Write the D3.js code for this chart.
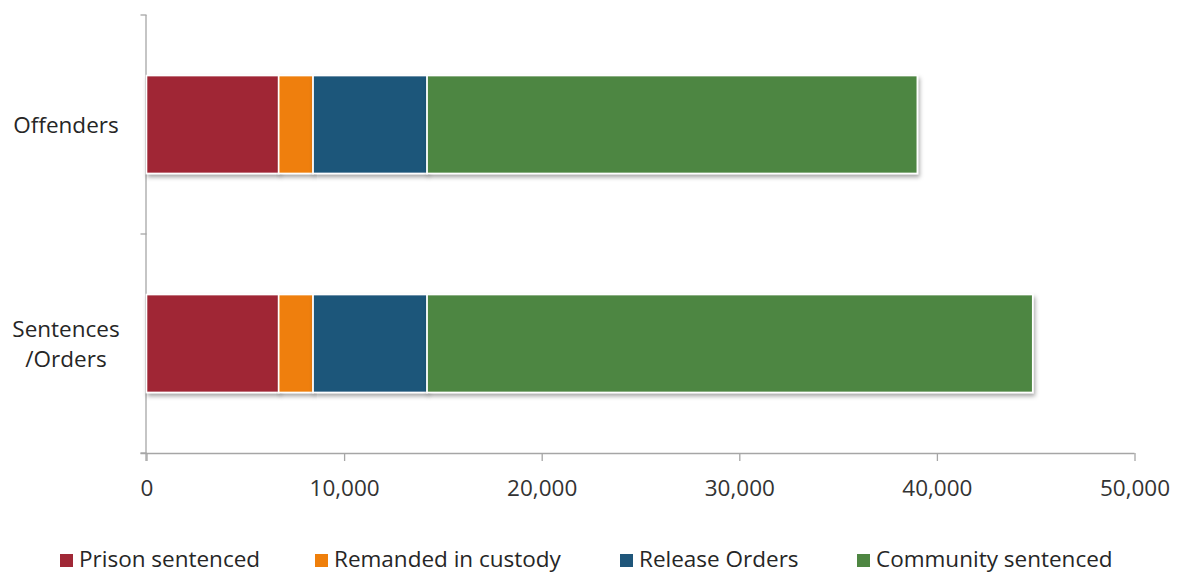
<!DOCTYPE html>
<html>
<head>
<meta charset="utf-8">
<script src="https://cdn.jsdelivr.net/npm/d3@7"></script>
<style>
  html, body { margin: 0; padding: 0; background: #fff; }
  svg { display: block; }
  text { font-family: "Open Sans", "Liberation Sans", sans-serif; }
</style>
</head>
<body>
<svg id="chart" width="1182" height="573"></svg>
<script>
// ---- data ----
const categories = ["Offenders", "Sentences /Orders"];
const seriesNames = ["Prison sentenced", "Remanded in custody", "Release Orders", "Community sentenced"];
const prisonSentenced   = [6690, 6690];
const remandedInCustody = [1740, 1740];
const releaseOrders     = [5770, 5770];
const communitySentenced = [24810, 30650];
const xTickValues = [0, 10000, 20000, 30000, 40000, 50000];
const seriesColors = ["#A02836", "#EF7F0B", "#1F567A", "#4E8642"];

// build table
const table = categories.map((c, i) => ({
  category: c,
  "Prison sentenced": prisonSentenced[i],
  "Remanded in custody": remandedInCustody[i],
  "Release Orders": releaseOrders[i],
  "Community sentenced": communitySentenced[i]
}));
const stacked = d3.stack().keys(seriesNames)(table);

const svg = d3.select("#chart");
const plot = { left: 146.5, right: 1134.5, top: 15, bottom: 453 };

const x = d3.scaleLinear().domain([0, 50000]).range([plot.left, plot.right]);
const y = d3.scaleBand().domain(categories).range([plot.top, plot.bottom])
  .paddingInner(0.553).paddingOuter(0.2765);
const color = d3.scaleOrdinal().domain(seriesNames).range(seriesColors);

// shadow filter
const defs = svg.append("defs");
const f = defs.append("filter").attr("id", "shadow")
  .attr("x", "-5%").attr("y", "-10%").attr("width", "115%").attr("height", "130%");
f.append("feDropShadow").attr("dx", 1.5).attr("dy", 3).attr("stdDeviation", 2)
  .attr("flood-color", "#000").attr("flood-opacity", 0.35);

// axes
const axisColor = "#A6A6A6";
const xAxis = d3.axisBottom(x).tickValues(xTickValues)
  .tickFormat(d3.format(",")).tickSize(8).tickSizeOuter(0).tickPadding(19);
const gx = svg.append("g").attr("transform", `translate(0,${plot.bottom})`).call(xAxis);
gx.select(".domain").attr("stroke", axisColor).attr("stroke-width", 1.3)
  .attr("d", `M${plot.left - 6},0.5H${plot.right}`);
gx.selectAll(".tick line").attr("stroke", axisColor).attr("stroke-width", 1.3);
gx.selectAll(".tick text").attr("fill", "#333").style("font-size", "22.5px")
  .style("font-family", "'Open Sans', sans-serif");

// y axis: line + ticks at band boundaries
const gy = svg.append("g");
gy.append("line").attr("x1", plot.left - 0.5).attr("x2", plot.left - 0.5)
  .attr("y1", plot.top).attr("y2", plot.bottom + 8)
  .attr("stroke", axisColor).attr("stroke-width", 1.3);
const boundaries = d3.range(categories.length + 1).map(i => plot.top + i * y.step());
gy.selectAll("line.tk").data(boundaries).join("line").attr("class", "tk")
  .attr("x1", plot.left - 6).attr("x2", plot.left)
  .attr("y1", d => d).attr("y2", d => d)
  .attr("stroke", axisColor).attr("stroke-width", 1.3);

// category labels
categories.forEach(c => {
  const lines = c.split(" ");
  const cy = y(c) + y.bandwidth() / 2 + 1;
  const lh = 30;
  const t = svg.append("text").attr("text-anchor", "middle").attr("fill", "#262626")
    .style("font-size", "22.5px");
  lines.forEach((ln, i) => {
    t.append("tspan").attr("x", 66)
      .attr("y", cy + (i - (lines.length - 1) / 2) * lh)
      .attr("dy", "0.35em").text(ln);
  });
});

// bars
const gBars = svg.append("g");
gBars.selectAll("g.series").data(stacked).join("g").attr("class", "series")
  .attr("fill", d => color(d.key))
  .selectAll("rect").data(d => d).join("rect")
  .attr("x", d => x(d[0]))
  .attr("y", d => y(d.data.category))
  .attr("width", d => x(d[1]) - x(d[0]))
  .attr("height", y.bandwidth())
  .attr("stroke", "#fff").attr("stroke-width", 1.6)
  .attr("filter", "url(#shadow)");

// legend
const legendX = [60, 315, 620, 857];
const lg = svg.append("g");
seriesNames.forEach((s, i) => {
  lg.append("rect").attr("x", legendX[i]).attr("y", 554).attr("width", 13).attr("height", 13)
    .attr("fill", color(s));
  lg.append("text").attr("x", legendX[i] + 19).attr("y", 559).attr("dy", "0.35em")
    .attr("fill", "#262626").style("font-size", "22.5px").text(s);
});
</script>
</body>
</html>
